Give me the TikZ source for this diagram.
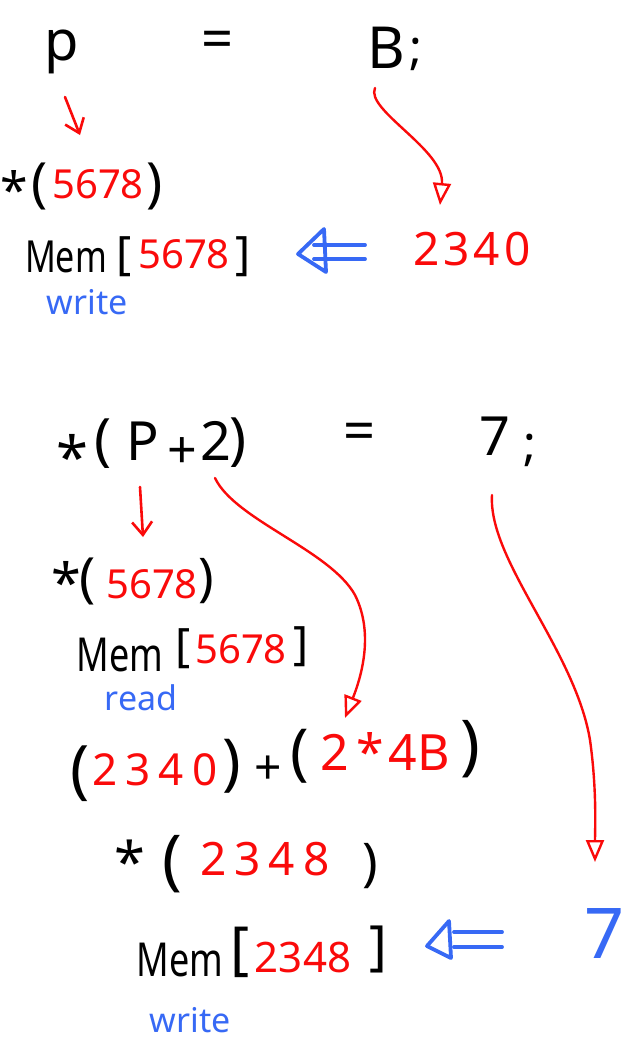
\documentclass[tikz,border=0pt]{standalone}
\usepackage{fontspec}
\setmainfont{Noto Sans}
\usetikzlibrary{arrows.meta}
\definecolor{hred}{RGB}{250,10,10}
\definecolor{hblue}{RGB}{55,105,245}
\newcommand{\fsz}[1]{\fontsize{#1}{#1}\selectfont}
\newcommand{\gp}[1]{\hspace{#1pt}}
\newcommand{\tall}[1]{\scalebox{1}[1.3]{#1}}
\begin{document}
\begin{tikzpicture}[x=1pt,y=-1pt,
  every node/.style={inner sep=0pt,anchor=base},
  bk/.style={text=black},
  rd/.style={text=hred},
  bl/.style={text=hblue},
  fs/.style={font=\fsz{#1}},
  redbarb/.style={draw=hred,line width=2.6pt,line cap=round,-{Straight Barb[length=13pt,width=20pt,line width=2.6pt]}},
  redcurve/.style={draw=hred,line width=2.4pt,line cap=round,-{Triangle[open,length=22pt,width=18pt,line width=2.4pt]}},
  blueline/.style={draw=hblue,line width=3.8pt,line cap=round,line join=round}
]
\useasboundingbox[fill=white] (0,0) rectangle (630,1047);

% ---------- first statement ----------
\node[bk,fs=56] (p) at (62,60) {p};
\node[bk,fs=56] (eqA) at (218,58) {=};
\node[bk,fs=58] (B) at (386,68) {B};
\node[bk,fs=48] (semiA) at (416,64) {;};

\node[bk,fs=50] (starA) at (14,208) {*};
\node[bk,fs=54] (lpA) at (40,201) {(};
\node[rd,fs=40] (numA) at (98,198) {5678};
\node[bk,fs=54] (rpA) at (155,201) {)};

\node[bk,fs=34] (memA) at (66,272) {\tall{Mem}};
\node[bk,fs=46] (lbA) at (124,269) {[};
\node[rd,fs=40] (numB) at (184,268) {5678};
\node[bk,fs=46] (rbA) at (243,269) {]};
\node[bl,fs=34] (writeA) at (87,314) {write};

\node[rd,fs=46] (valA) at (472,265) {2\gp{4}3\gp{4}4\gp{4}0};

\draw[redbarb] ([shift={(3,37)}]p.base) -- ([shift={(-18,-63)}]numA.base);
\draw[redcurve] ([shift={(-11,20)}]B.base) .. controls (365,110) and (445,150) .. ([shift={(-32,-60)}]valA.base);

\draw[blueline] ([shift={(-107,-20)}]valA.base) -- ([shift={(71,-24)}]rbA.base);
\draw[blueline] ([shift={(-107,-6)}]valA.base) -- ([shift={(71,-10)}]rbA.base);
\draw[blueline] ([shift={(55,-15)}]rbA.base) -- ([shift={(81,-40)}]rbA.base) -- ([shift={(83,3)}]rbA.base) -- cycle;

% ---------- second statement ----------
\node[bk,fs=58] (starB) at (72,478) {*};
\node[bk,fs=57] (lpB) at (103,459) {(};
\node[bk,fs=54] (P) at (143,460) {P};
\node[bk,fs=52] (plusA) at (182,468) {+};
\node[bk,fs=54] (two) at (216,460) {2};
\node[bk,fs=57] (rpB) at (238,458) {)};
\node[bk,fs=56] (eqB) at (360,450) {=};
\node[bk,fs=54] (seven) at (495,455) {7};
\node[bk,fs=48] (semiB) at (530,460) {;};

\node[bk,fs=54] (starC) at (66,602) {*};
\node[bk,fs=54] (lpC) at (88,596) {(};
\node[rd,fs=40] (numC) at (152,598) {5678};
\node[bk,fs=52] (rpC) at (206,595) {)};

\node[bk,fs=36] (memB) at (120,671) {\tall{Mem}};
\node[bk,fs=46] (lbB) at (183,661) {[};
\node[rd,fs=40] (numD) at (241,663) {5678};
\node[bk,fs=46] (rbB) at (301,659) {]};
\node[bl,fs=34] (readA) at (141,710) {read};

\node[bk,fs=64] (lpD) at (80,791) {(};
\node[rd,fs=44] (numE) at (155,785) {2\gp{8}3\gp{8}4\gp{8}0};
\node[bk,fs=62] (rpD) at (232,783) {)};
\node[bk,fs=48] (plusB) at (268,784) {+};
\node[bk,fs=62] (lpE) at (300,773) {(};
\node[rd,fs=50] (prod) at (385,770) {2\gp{8}*\gp{4}4B};
\node[bk,fs=66] (rpE) at (470,767) {)};

\node[bk,fs=56] (starD) at (130,882) {*};
\node[bk,fs=66] (lpF) at (172,882) {(};
\node[rd,fs=46] (numF) at (265,875) {2\gp{8}3\gp{8}4\gp{8}8};
\node[bk,fs=52] (rpF) at (370,880) {)};

\node[bk,fs=36] (memC) at (180,976) {\tall{Mem}};
\node[bk,fs=58] (lbC) at (240,968) {[};
\node[rd,fs=42] (numG) at (303,972) {2348};
\node[bk,fs=54] (rbC) at (378,964) {]};
\node[bl,fs=34] (writeB) at (190,1032) {write};

\node[bl,fs=70] (sevenB) at (605,958) {7};

\draw[redbarb] ([shift={(-3,27)}]P.base) -- ([shift={(-9,-61)}]numC.base);
\draw[redcurve] ([shift={(-1,18)}]two.base) .. controls (235,520) and (330,550) .. (355,595)
   .. controls (375,635) and (360,680) .. ([shift={(-40,-52)}]prod.base);
\draw[redcurve] ([shift={(-3,40)}]seven.base) .. controls (488,560) and (575,650) .. (590,740)
   .. controls (597,790) and (595,830) .. ([shift={(-10,-96)}]sevenB.base);

\draw[blueline] ([shift={(-103,-26)}]sevenB.base) -- ([shift={(76,-32)}]rbC.base);
\draw[blueline] ([shift={(-103,-11)}]sevenB.base) -- ([shift={(76,-17)}]rbC.base);
\draw[blueline] ([shift={(49,-18)}]rbC.base) -- ([shift={(71,-43)}]rbC.base) -- ([shift={(73,-6)}]rbC.base) -- cycle;
\end{tikzpicture}
\end{document}
